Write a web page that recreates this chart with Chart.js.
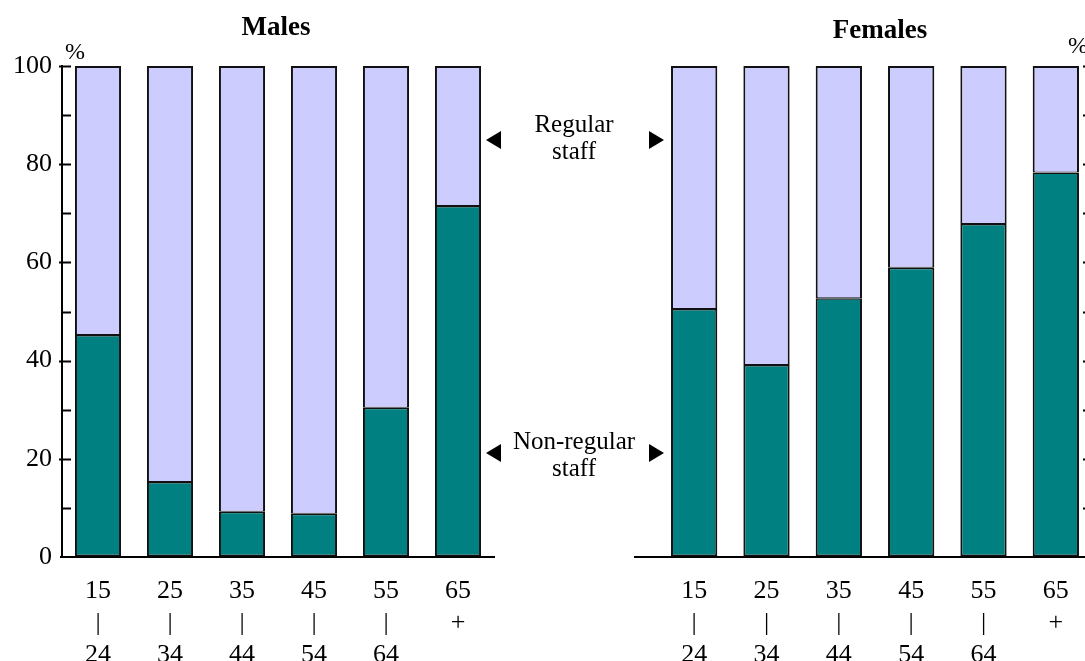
<!DOCTYPE html>
<html>
<head>
<meta charset="utf-8">
<script src="https://cdn.jsdelivr.net/npm/chart.js@4"></script>
<style>
  body { margin: 0; width: 1085px; height: 661px; overflow: hidden; position: relative; background: #fff;
         font-family: "Liberation Serif", "DejaVu Serif", serif; color: #000; }
  canvas { position: absolute; top: 0; }
  #males { left: 0; }
  #females { left: 600px; }
  .title { position: absolute; font-weight: bold; font-size: 27px; line-height: 27px; width: 200px; text-align: center; }
  .pct { position: absolute; font-size: 24px; line-height: 24px; }
  .note { position: absolute; left: 494px; width: 160px; text-align: center; font-size: 25px; line-height: 27px; }
  .tri-l, .tri-r { position: absolute; width: 0; height: 0; border-top: 9px solid transparent; border-bottom: 9px solid transparent; }
  .tri-l { border-right: 15px solid #000; left: 486px; }
  .tri-r { border-left: 15px solid #000; left: 649px; }
</style>
</head>
<body>
<canvas id="males" width="500" height="661"></canvas>
<canvas id="females" width="532" height="661"></canvas>

<div class="title" style="left:176px; top:13px;">Males</div>
<div class="title" style="left:780px; top:16px;">Females</div>
<div class="pct" style="left:65px; top:39px;">%</div>
<div class="pct" style="left:1068px; top:33px;">%</div>

<div class="tri-l" style="top:131px;"></div>
<div class="note" style="top:110px;">Regular<br>staff</div>
<div class="tri-r" style="top:131px;"></div>

<div class="tri-l" style="top:444px;"></div>
<div class="note" style="top:427px;">Non-regular<br>staff</div>
<div class="tri-r" style="top:444px;"></div>

<script>
  // age groups, drawn as stacked lines under each bar
  let ageGroups = [
    ["15", "|", "24"],
    ["25", "|", "34"],
    ["35", "|", "44"],
    ["45", "|", "54"],
    ["55", "|", "64"],
    ["65", "+"]
  ]

  // share of employees (%)
  let maleNonRegular = [45.2, 15.3, 9.2, 8.8, 30.4, 71.5]
  let maleRegular = [54.8, 84.7, 90.8, 91.2, 69.6, 28.5]
  let femaleNonRegular = [50.5, 39.1, 52.7, 58.9, 67.8, 78.3]
  let femaleRegular = [49.5, 60.9, 47.3, 41.1, 32.2, 21.7]

  let yTicks = [0, 20, 40, 60, 80, 100]
  let yMarks = [10, 20, 30, 40, 50, 60, 70, 80, 90, 100]

  const teal = 'rgb(0,128,128)'
  const lavender = 'rgb(204,204,255)'
  const edge = '#111'
  const font = { family: '"Liberation Serif", serif', size: 26, lineHeight: 1.24 }

  // short tick marks drawn inside the plot, plus an optional stub of the x axis
  const axisMarks = {
    id: 'axisMarks',
    afterDraw(chart, args, opts) {
      const ctx = chart.ctx
      const area = chart.chartArea
      const y = chart.scales.y
      const right = y.position === 'right'
      const x0 = right ? area.right : area.left
      const dir = right ? -1 : 1
      ctx.save()
      ctx.strokeStyle = '#000'
      ctx.lineWidth = 2
      yMarks.forEach(v => {
        const py = Math.round(y.getPixelForValue(v)) + 0.5
        const major = yTicks.includes(v)
        ctx.beginPath()
        ctx.moveTo(x0 - dir * (major ? 3 : 0), py)
        ctx.lineTo(x0 + dir * 9, py)
        ctx.stroke()
      })
      ctx.beginPath()
      ctx.moveTo(area.left - (opts.stub || 2), area.bottom)
      ctx.lineTo(area.left, area.bottom)
      ctx.stroke()
      ctx.restore()
    }
  }

  const makeChart = (id, nonRegular, regular, side, pad, stub) => {
    const ctx = document.getElementById(id)
    return new Chart(ctx, {
      type: 'bar',
      data: {
        labels: ageGroups,
        datasets: [{
          label: 'Non-regular staff',
          data: nonRegular,
          backgroundColor: teal,
          borderColor: edge,
          borderWidth: { top: 1.5, bottom: 2, left: 2, right: 2 },
          borderSkipped: false,
          inflateAmount: 0
        }, {
          label: 'Regular staff',
          data: regular,
          backgroundColor: lavender,
          borderColor: edge,
          borderWidth: { top: 2, bottom: 1, left: 2, right: 2 },
          borderSkipped: false,
          inflateAmount: 0
        }]
      },
      options: {
        responsive: false,
        animation: false,
        devicePixelRatio: 1,
        layout: { padding: pad },
        plugins: {
          legend: { display: false },
          tooltip: { enabled: false },
          axisMarks: { stub: stub }
        },
        datasets: { bar: { categoryPercentage: 1, barPercentage: 0.64 } },
        scales: {
          x: {
            stacked: true,
            grid: { display: true, drawOnChartArea: false, drawTicks: false },
            border: { display: true, color: '#000', width: 2 },
            ticks: { color: '#000', font: font, padding: 18, maxRotation: 0, autoSkip: false },
            afterFit: (scale) => { scale.height = 104 }
          },
          y: {
            stacked: true,
            position: side,
            min: 0,
            max: 100,
            grid: { display: true, drawOnChartArea: false, drawTicks: false },
            border: { display: true, color: '#000', width: 2 },
            ticks: {
              color: '#000', font: font, padding: 10, stepSize: 20,
              callback: (v) => yTicks.includes(v) ? v : ''
            },
            afterFit: (scale) => { scale.width = side === 'left' ? 62 : 40 }
          }
        }
      },
      plugins: [axisMarks]
    })
  }

  makeChart('males', maleNonRegular, maleRegular, 'left', { top: 66, right: 6, left: 0, bottom: 0 }, 0)
  makeChart('females', femaleNonRegular, femaleRegular, 'right', { top: 66, right: 0, left: 58, bottom: 0 }, 24)
</script>
</body>
</html>
